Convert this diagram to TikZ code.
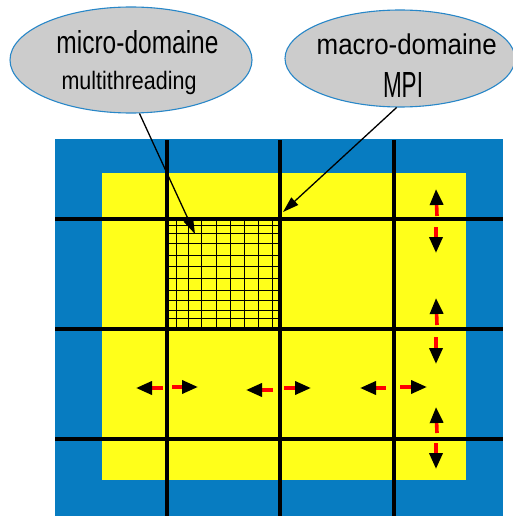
\documentclass[tikz,border=0pt]{standalone}
\usepackage{fontspec}
\setmainfont{Liberation Sans}
\usepackage{graphicx}
\usetikzlibrary{arrows.meta,shapes.geometric}
\definecolor{frameblue}{RGB}{7,124,193}
\definecolor{cellyellow}{RGB}{255,255,26}
\definecolor{bubblegray}{RGB}{204,204,204}
\definecolor{bubbleedge}{RGB}{40,135,200}
\begin{document}
\begin{tikzpicture}[x=1pt,y=-1pt,
  bubble/.style={ellipse, draw=bubbleedge, line width=1.1pt, fill=bubblegray, inner sep=0pt},
  txt/.style={anchor=base, inner sep=0pt},
  mainline/.style={line width=3.4pt, black},
  fineline/.style={line width=1pt, black},
  pointer/.style={line width=1.3pt, -{Triangle[length=16pt,width=10pt]}},
  flux/.style={red, line width=3.6pt, -{Triangle[length=16pt,width=13pt,color=black]}}
]
\useasboundingbox (0,0) rectangle (513,516);
\fill[white] (0,0) rectangle (513,516);
\fill[frameblue] (55,139) rectangle (503,516);
\fill[cellyellow] (102,173) rectangle (466,480);
% fine grid of the micro-domain
\foreach \x in {176.7,188.3,201.7,216,230,244.3,258.3,272.7}
  \draw[fineline] (\x,219) -- (\x,329);
\foreach \y in {225,233.3,243.3,255,266.7,278.3,290,300,310,318.3}
  \draw[fineline] (167,\y) -- (280,\y);
% macro-domain lines
\foreach \x in {167,280,394}
  \draw[mainline] (\x,140) -- (\x,516);
\foreach \y in {219,329,439}
  \draw[mainline] (55,\y) -- (503,\y);
% exchange arrows
\foreach \sx/\sy/\tx/\ty [count=\k] in {
  163/388/136/388, 172/387/198/387,
  273/390/246/390, 284/388/311/388,
  386/388/360/388, 400/387/427/387,
  437/216/436/189, 436/227/436/253,
  437/325/436/298, 436/337/436/364,
  437/433/436/407, 436/443/436/469}
{
  \coordinate (fs\k) at (\sx,\sy);
  \coordinate (ft\k) at (\tx,\ty);
  \draw[flux] (fs\k) -- (ft\k);
}
% bubbles
\node[bubble, minimum width=242pt, minimum height=106pt] (e1) at (131,60) {};
\node[bubble, minimum width=230pt, minimum height=97pt] (e2) at (400,58.5) {};
\node[txt] (t1) at (137.5,53.3) {\resizebox{162pt}{23pt}{micro-domaine}};
\node[txt] (t2) at (129,90) {\resizebox{135pt}{18.3pt}{multithreading}};
\node[txt] (t3) at (406.7,55) {\resizebox{180pt}{20.7pt}{macro-domaine}};
\node[txt] (t4) at (403,98) {\resizebox{40pt}{25pt}{MPI}};
% pointers
\coordinate (p1) at (195,234);
\coordinate (p2) at (283,212);
\draw[pointer] (e1.-81) -- (p1);
\draw[pointer] (e2.-94) -- (p2);
\end{tikzpicture}
\end{document}
